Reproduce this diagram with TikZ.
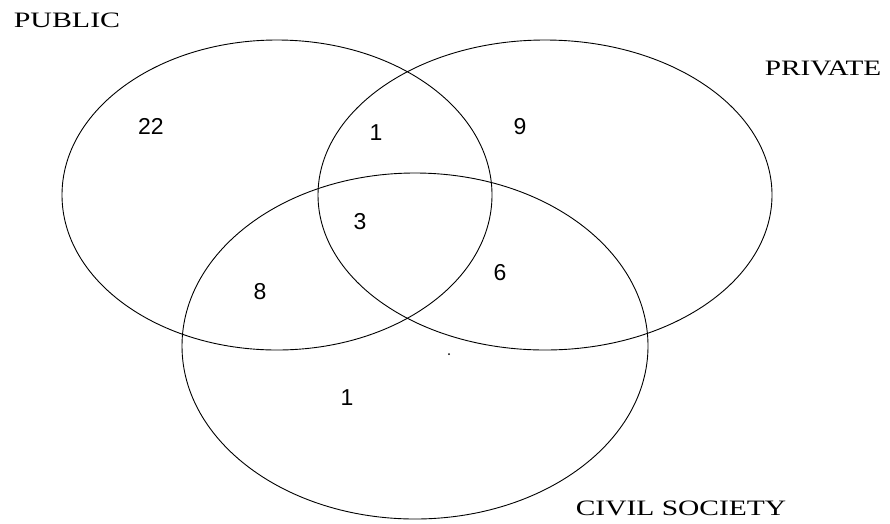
\documentclass[tikz,border=0pt]{standalone}
\usepackage{fontspec}
\setmainfont{Liberation Serif}
\newfontfamily\numfont{Liberation Sans}
\begin{document}
\begin{tikzpicture}[x=1pt,y=-1pt,
  setring/.style={draw=black,line width=0.9pt},
  setlabel/.style={inner sep=0pt,font=\fontsize{22}{24}\selectfont},
  count/.style={inner sep=0pt,font=\numfont\fontsize{23}{25}\selectfont}]
\useasboundingbox (0,0) rectangle (890,523);
\fill[white] (0,0) rectangle (890,523);
% sets
\draw[setring] (277,195) ellipse [x radius=215, y radius=155];
\draw[setring] (545,195) ellipse [x radius=227, y radius=155];
\draw[setring] (415,346) ellipse [x radius=233, y radius=173];
% labels
\node[setlabel] (pub) at (67,20) {\scalebox{1.36}[1]{PUBLIC}};
\node[setlabel] (pri) at (823,68) {\scalebox{1.33}[1]{PRIVATE}};
\node[setlabel] (civ) at (681,508) {\scalebox{1.34}[1]{CIVIL SOCIETY}};
% counts
\node[count] (n22) at (151,126) {22};
\node[count] (n1a) at (376,133) {1};
\node[count] (n9)  at (520,127) {9};
\node[count] (n3)  at (360,222) {3};
\node[count] (n8)  at (260,292) {8};
\node[count] (n6)  at (500,273) {6};
\node[count] (n1b) at (347,398) {1};
\fill (449,354) circle (1pt);
\end{tikzpicture}
\end{document}
